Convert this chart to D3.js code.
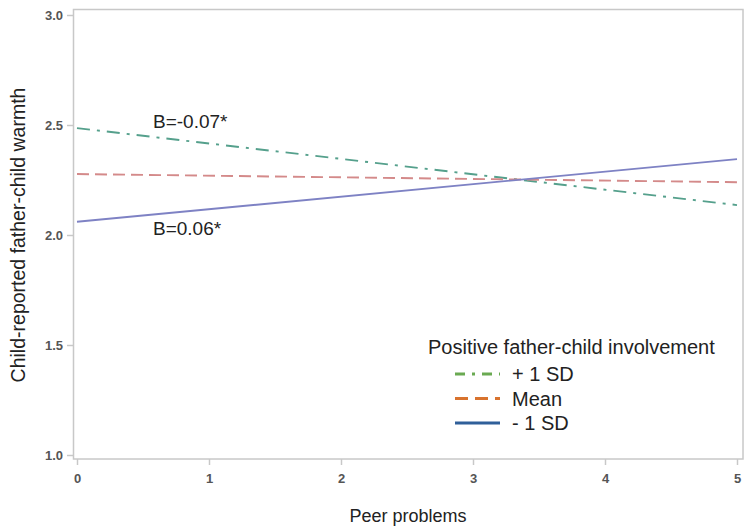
<!DOCTYPE html>
<html>
<head>
<meta charset="utf-8">
<script src="https://cdn.jsdelivr.net/npm/d3@7"></script>
<style>
  body { margin: 0; background: #fff; }
  svg { display: block; font-family: Arial, "Liberation Sans", sans-serif; }
</style>
</head>
<body>
<div id="chart"></div>
<script>
// Data: predicted warmth at peer problems = 0 and 5
var xValues = [0, 5];
var plusSD = [2.486, 2.136];
var meanLine = [2.277, 2.240];
var minusSD = [2.060, 2.345];
var seriesNames = ["+ 1 SD", "Mean", "- 1 SD"];
var xTicks = [0, 1, 2, 3, 4, 5];
var yTicks = [1.0, 1.5, 2.0, 2.5, 3.0];
var annotations = ["B=-0.07*", "B=0.06*"];

var width = 750, height = 529;

var svg = d3.select("#chart")
    .append("svg")
    .attr("width", width)
    .attr("height", height);

// scales
var x = d3.scaleLinear().domain([0, 5]).range([77, 737]);
var y = d3.scaleLinear().domain([1, 3]).range([455, 15]);

// frame
svg.append("rect")
    .attr("x", 73.5).attr("y", 9.5)
    .attr("width", 743 - 73.5).attr("height", 459 - 9.5)
    .attr("fill", "none")
    .attr("stroke", "#c8c8c8")
    .attr("stroke-width", 1.5);

// axes
var xAxis = svg.append("g")
    .attr("transform", "translate(0,459)")
    .call(d3.axisBottom(x).tickValues(xTicks).tickFormat(d3.format("d")).tickSize(6).tickPadding(9));
var yAxis = svg.append("g")
    .attr("transform", "translate(73,0)")
    .call(d3.axisLeft(y).tickValues(yTicks).tickFormat(d3.format(".1f")).tickSize(6).tickPadding(4));

[xAxis, yAxis].forEach(function (ax) {
    ax.select(".domain").remove();
    ax.selectAll(".tick line").attr("stroke", "#c8c8c8").attr("stroke-width", 1.5);
    ax.selectAll(".tick text")
        .attr("fill", "#555")
        .style("font-size", "13px")
        .style("font-weight", "bold");
});

// axis titles
svg.append("text")
    .attr("x", 408).attr("y", 522)
    .attr("text-anchor", "middle")
    .style("font-size", "18px")
    .attr("fill", "#222")
    .text("Peer problems");

svg.append("text")
    .attr("transform", "translate(25,235) rotate(-90)")
    .attr("text-anchor", "middle")
    .style("font-size", "19.5px")
    .attr("fill", "#222")
    .text("Child-reported father-child warmth");

// lines
var lineGen = d3.line()
    .x(function (d) { return x(d[0]); })
    .y(function (d) { return y(d[1]); });

var series = [
    { name: seriesNames[0], values: plusSD, color: "#55a08c", dash: "13,7,3,7", legColor: "#6aaa52", legDash: "10,7,3,7" },
    { name: seriesNames[1], values: meanLine, color: "#d48a8a", dash: "12,6", legColor: "#d8732e", legDash: "13,7" },
    { name: seriesNames[2], values: minusSD, color: "#7e82c4", dash: null, legColor: "#2f5f99", legDash: null }
];

series.forEach(function (s) {
    var pts = xValues.map(function (v, i) { return [v, s.values[i]]; });
    svg.append("path")
        .datum(pts)
        .attr("d", lineGen)
        .attr("fill", "none")
        .attr("stroke", s.color)
        .attr("stroke-width", 1.9)
        .attr("stroke-dasharray", s.dash);
});

// annotations
svg.append("text")
    .attr("x", 153).attr("y", 128)
    .style("font-size", "19px")
    .attr("fill", "#222")
    .text(annotations[0]);
svg.append("text")
    .attr("x", 153).attr("y", 235)
    .style("font-size", "19px")
    .attr("fill", "#222")
    .text(annotations[1]);

// legend
var legend = svg.append("g").attr("transform", "translate(428,354)");
legend.append("text")
    .attr("x", 0).attr("y", 0)
    .style("font-size", "20px")
    .attr("fill", "#222")
    .text("Positive father-child involvement");

series.forEach(function (s, i) {
    var ly = 20 + i * 24.5;
    legend.append("line")
        .attr("x1", 27).attr("x2", 72)
        .attr("y1", ly).attr("y2", ly)
        .attr("stroke", s.legColor)
        .attr("stroke-width", 3)
        .attr("stroke-dasharray", s.legDash);
    legend.append("text")
        .attr("x", 84).attr("y", ly + 7)
        .style("font-size", "20px")
        .attr("fill", "#222")
        .text(s.name);
});
</script>
</body>
</html>
